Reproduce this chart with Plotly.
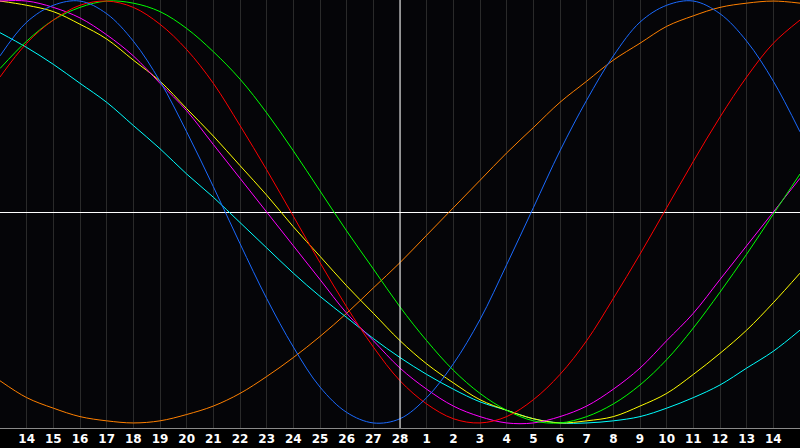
import plotly.graph_objects as go

# day index 0..30 covers Feb 13 .. Mar 15
day_index = list(range(31))
tick_index = list(range(1, 30))
tick_labels = [str(d) for d in range(14, 29)] + [str(d) for d in range(1, 15)]

# values in percent
physical = [74, 90, 98, 100, 94, 81, 62, 38, 12, -15, -41, -64, -83, -95, -100, -98,
            -88, -72, -51, -25, 2, 29, 53, 74, 90, 98, 100, 94, 81, 62, 38]
emotional = [64, 80, 91, 98, 100, 97, 89, 77, 61, 41, 20, -2, -24, -45, -64, -80,
             -91, -98, -100, -97, -89, -77, -61, -41, -20, 2, 24, 45, 64, 80, 91]
intellectual = [68, 81, 91, 97, 100, 99, 95, 87, 76, 63, 47, 29, 10, -9, -27, -45,
                -61, -75, -86, -94, -99, -100, -97, -91, -82, -70, -55, -38, -20, -1, 18]
intuitive = [100, 100, 97, 92, 84, 74, 61, 48, 32, 16, 0, -16, -32, -48, -61, -74,
             -84, -92, -97, -100, -100, -97, -92, -84, -74, -61, -48, -32, -16, 0, 16]
aesthetic = [100, 98, 95, 89, 82, 72, 62, 49, 36, 22, 8, -7, -21, -35, -48, -61,
             -72, -81, -89, -94, -98, -100, -99, -97, -92, -86, -77, -67, -56, -43, -29]
spiritual = [85, 78, 70, 61, 52, 41, 30, 18, 7, -5, -17, -29, -40, -50, -60, -69,
             -77, -84, -90, -94, -98, -100, -100, -99, -97, -93, -88, -82, -74, -66, -56]
awareness = [-80, -88, -93, -97, -99, -100, -99, -96, -92, -86, -78, -69, -59, -48, -36, -24,
             -11, 2, 15, 28, 40, 52, 62, 72, 80, 88, 93, 97, 99, 100, 99]

series = [
    ("Awareness", awareness, "#ff8000"),
    ("Spiritual", spiritual, "#00ffff"),
    ("Aesthetic", aesthetic, "#ffff00"),
    ("Intuitive", intuitive, "#ff00ff"),
    ("Intellectual", intellectual, "#00ff00"),
    ("Emotional", emotional, "#ff0000"),
    ("Physical", physical, "#1a6aff"),
]

fig = go.Figure()
for name, vals, col in series:
    fig.add_trace(go.Scatter(x=day_index, y=vals, mode="lines", name=name,
                             line=dict(color=col, width=1, shape="spline")))

# today marker
today = tick_labels.index("28") + 1
fig.add_vline(x=today, line_color="#ffffff", line_width=1)

fig.update_layout(
    width=800, height=448,
    margin=dict(l=0, r=0, t=0, b=20),
    paper_bgcolor="#000000",
    plot_bgcolor="#050508",
    showlegend=False,
)
fig.update_xaxes(
    range=[0, 30], tickvals=tick_index, ticktext=tick_labels,
    showgrid=True, gridcolor="#2a2a2a", gridwidth=1,
    ticks="", zeroline=False,
    showline=True, linecolor="#8a8a8a", linewidth=1, mirror=True,
    tickfont=dict(family="DejaVu Sans", size=12, color="#ffffff", weight="bold"),
)
fig.update_yaxes(
    range=[-102.4, 100.5], showgrid=False, showticklabels=False,
    zeroline=True, zerolinecolor="#ffffff", zerolinewidth=1,
    showline=True, linecolor="#8a8a8a", linewidth=1, mirror=True,
)

fig.write_html("out.html", config={"displayModeBar": False})

# drop the browser's default page margin so the figure sits at 0,0
with open("out.html", encoding="utf-8") as f:
    page = f.read()
page = page.replace("<head>", "<head><style>html,body{margin:0;padding:0;overflow:hidden;background:#000}</style>", 1)
with open("out.html", "w", encoding="utf-8") as f:
    f.write(page)
